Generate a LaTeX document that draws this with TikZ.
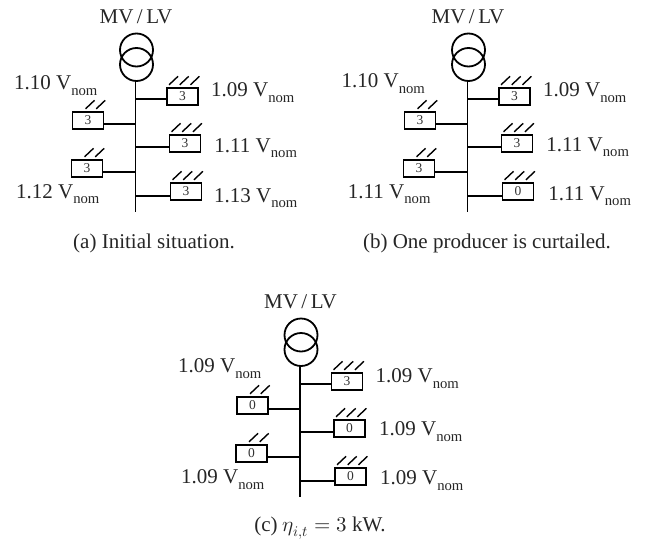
\documentclass[tikz,border=0pt]{standalone}
\usepackage{fontspec}
\setmainfont{Liberation Serif}
\usepackage{unicode-math}
\setmathfont{Latin Modern Math}
\tikzset{
  x=1pt,y=-1pt,
  gen/.style={draw,line width=1.9pt,minimum width=31pt,minimum height=17.5pt,inner sep=0pt,font=\fontsize{13.5}{14}\selectfont,text=black!80},
  wire/.style={line width=1.9pt},
  coil/.style={circle,draw,line width=1.8pt,minimum size=33pt,inner sep=0pt},
  sun/.style={line width=1.4pt},
  lab/.style={inner sep=0pt,yshift=-1.5pt,font=\fontsize{21}{24}\selectfont,text=black!85},
  captext/.style={inner sep=0pt,yshift=-2pt,font=\fontsize{21}{24}\selectfont,text=black!85},
  toplab/.style={inner sep=0pt,yshift=-0.5pt,font=\fontsize{21}{24}\selectfont,text=black!85}
}
\newcommand{\vn}[1]{#1 V\textsubscript{nom}}
\newcommand{\rays}[3]{%
  \foreach \k in {1,...,#3}{
    \draw[sun] ([xshift=#2pt+\k*10.7pt-10.7pt,yshift=2pt]#1.north west) -- ++(9pt,8.5pt);
  }}
\newcommand{\feeder}[8]{%
\begin{scope}[shift={(#2,#3)}]
  \node[toplab] (#1t) at (136,16) {MV\,/\,LV};
  \node[coil] (#1c1) at (136.5,50) {};
  \node[coil] (#1c2) at (136.5,64.5) {};
  \coordinate (#1end) at (135.5,212);
  \coordinate (#1top) at (135.5,81);
  \draw[wire] (#1top) -- (#1end);
  \coordinate (#1j1) at (135.5,99);
  \coordinate (#1j2) at (135.5,147);
  \coordinate (#1j3) at (135.5,196);
  \coordinate (#1j4) at (135.5,124);
  \coordinate (#1j5) at (135.5,172);
  \node[gen] (#1g1) at (182.5,96.5) {#4};
  \node[gen] (#1g2) at (185,143.5) {#5};
  \node[gen] (#1g3) at (186,191.5) {#6};
  \node[gen] (#1g4) at (88,120.5) {#7};
  \node[gen] (#1g5) at (87,168.5) {#8};
  \draw[wire] (#1j1) -- (#1j1-|#1g1.west);
  \draw[wire] (#1j2) -- (#1j2-|#1g2.west);
  \draw[wire] (#1j3) -- (#1j3-|#1g3.west);
  \draw[wire] (#1j4) -- (#1j4-|#1g4.east);
  \draw[wire] (#1j5) -- (#1j5-|#1g5.east);
  \rays{#1g1}{3}{3}
  \rays{#1g2}{3}{3}
  \rays{#1g3}{3}{3}
  \rays{#1g4}{14}{2}
  \rays{#1g5}{14}{2}
\end{scope}}
\begin{document}
\begin{tikzpicture}
\useasboundingbox (0,0) rectangle (656,541);
\feeder{a}{0}{0}{3}{3}{3}{3}{3}
\node[lab] (a1) at (56,84) {\vn{1.10}};
\node[lab] (a2) at (253,91) {\vn{1.09}};
\node[lab] (a3) at (256,147) {\vn{1.11}};
\node[lab] (a4) at (58,193) {\vn{1.12}};
\node[lab] (a5) at (256,197) {\vn{1.13}};
\node[captext] (ac) at (154,241) {(a) Initial situation.};
\feeder{b}{332}{0}{3}{3}{0}{3}{3}
\node[lab] (b1) at (383.5,82) {\vn{1.10}};
\node[lab] (b2) at (585,91) {\vn{1.09}};
\node[lab] (b3) at (588,146) {\vn{1.11}};
\node[lab] (b4) at (389.5,193) {\vn{1.11}};
\node[lab] (b5) at (590,195) {\vn{1.11}};
\node[captext] (bc) at (487,241) {(b) One producer is curtailed.};
\feeder{c}{164.5}{285}{3}{0}{0}{0}{0}
\node[lab] (c1) at (220,367) {\vn{1.09}};
\node[lab] (c2) at (417.5,377) {\vn{1.09}};
\node[lab] (c3) at (421,430) {\vn{1.09}};
\node[lab] (c4) at (223,478) {\vn{1.09}};
\node[lab] (c5) at (422,479) {\vn{1.09}};
\node[captext] (cc) at (320,526) {(c) $\eta_{i,t}=3$ kW.};
\end{tikzpicture}
\end{document}
